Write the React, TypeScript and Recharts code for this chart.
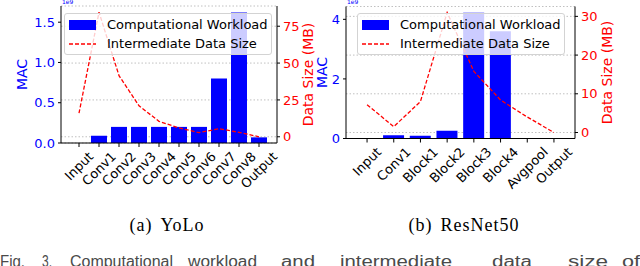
import React from "react";
import {
  ComposedChart, Bar, Line, XAxis, YAxis, CartesianGrid, Legend,
} from "recharts";

// (a) YoLo – MAC in units of 1e9, data size in MB
const yoloLayers = ["Input", "Conv1", "Conv2", "Conv3", "Conv4", "Conv5", "Conv6", "Conv7", "Conv8", "Output"];
const yoloMac = [0, 0.09, 0.2, 0.2, 0.2, 0.2, 0.2, 0.8, 1.62, 0.07];
const yoloSize = [16, 84.5, 41.5, 21, 10.5, 6, 2.8, 5.5, 3, 0];
const yoloMacTicks = [0, 0.5, 1, 1.5];
const yoloSizeTicks = [0, 25, 50, 75];

// (b) ResNet50
const resnetLayers = ["Input", "Conv1", "Block1", "Block2", "Block3", "Block4", "Avgpool", "Output"];
const resnetMac = [0, 0.11, 0.09, 0.26, 4.22, 3.6, 0, 0];
const resnetSize = [7.2, 1.5, 8, 31, 15.8, 8.4, 4, 0];
const resnetMacTicks = [0, 2, 4];
const resnetSizeTicks = [0, 10, 20, 30];

// first line of the figure caption (justified in the paper, cut by the crop)
const figWords = ["Fig.", "3.", "Computational", "workload", "and", "intermediate", "data", "size", "of"];
const figWordX = [0, 42, 70, 188, 281, 340, 492, 568, 622];
const figWordW = [25, 10, 103, 69, 34, 112, 40, 40, 18];

const FONT = "'DejaVu Sans', sans-serif";
const BLUE = "#0000ff";
const RED = "#ff0000";
const CHART_H = 210;

let measureCtx: CanvasRenderingContext2D | null = null;
function textWidth(s: string, px: number) {
  if (!measureCtx) measureCtx = document.createElement("canvas").getContext("2d");
  if (!measureCtx) return s.length * px * 0.6;
  measureCtx.font = `${px}px 'DejaVu Sans'`;
  return measureCtx.measureText(s).width;
}

// matplotlib style: label rotated 45deg, its bounding box centred under the tick
const RotatedTick = (props: any) => {
  const { x, y, payload } = props;
  const fs = 13;
  const w = textWidth(payload.value, fs);
  const cy = y + (w + fs * 0.9) / (2 * Math.SQRT2);
  return (
    <text x={x} y={cy} transform={`rotate(-45, ${x}, ${cy})`} textAnchor="middle"
      dominantBaseline="central" fontSize={fs} fontFamily={FONT} fill="#000">
      {payload.value}
    </text>
  );
};

const LegendBox = ({ payload }: any) => (
  <div style={{
    width: 208, height: 42, boxSizing: "border-box", border: "1px solid #d3d3d3", borderRadius: 3,
    background: "rgba(255,255,255,0.8)", position: "relative", fontFamily: FONT, fontSize: 13, color: "#000",
  }}>
    {(payload ?? []).map((entry: any, i: number) => (
      <div key={i} style={{ position: "absolute", left: 4, top: 3 + i * 19, height: 15, display: "flex", alignItems: "center", whiteSpace: "nowrap" }}>
        {entry.type === "rect"
          ? <div style={{ width: 27, height: 10, background: entry.color }} />
          : (
            <svg width={27} height={10}>
              <line x1={0} x2={27} y1={5} y2={5} stroke={entry.color} strokeWidth={1.3} strokeDasharray="4 2" />
            </svg>
          )}
        <span style={{ marginLeft: 11 }}>{entry.value}</span>
      </div>
    ))}
  </div>
);

// matplotlib-like 5% margin on the twin axis range
const padDomain = (vals: number[]): [number, number] => {
  const lo = Math.min(...vals), hi = Math.max(...vals);
  const m = (hi - lo) * 0.05;
  return [lo - m, hi + m];
};

type PanelProps = {
  layers: string[]; mac: number[]; size: number[];
  macTicks: number[]; sizeTicks: number[];
  macFormat: (v: number) => string;
  width: number;
  margin: { top: number; right: number; bottom: number; left: number };
  macAxisW: number; sizeAxisW: number; bandPad: number;
  macLabelDx: number; sizeLabelDx: number; legendLeft: number;
};

function Panel(p: PanelProps) {
  const data = p.layers.map((layer, i) => ({ layer, mac: p.mac[i], size: p.size[i] }));
  const axisStroke = { stroke: "#000", strokeWidth: 1 };
  return (
    <ComposedChart width={p.width} height={CHART_H} data={data} margin={p.margin} barCategoryGap="10%">
      <XAxis dataKey="layer" height={60} interval={0} tickSize={4} tickMargin={3}
        tick={(t: any) => <RotatedTick {...t} />} tickLine={axisStroke} axisLine={axisStroke}
        padding={{ left: p.bandPad, right: p.bandPad }} />
      <XAxis xAxisId="top" dataKey="layer" orientation="top" height={0} tick={false}
        tickLine={false} axisLine={axisStroke} />
      <YAxis yAxisId="mac" type="number" width={p.macAxisW} domain={[0, Math.max(...p.mac) * 1.05]}
        allowDataOverflow ticks={p.macTicks} tickFormatter={p.macFormat} tickSize={3} tickMargin={3}
        tick={{ fill: BLUE, fontSize: 13, fontFamily: FONT }} tickLine={axisStroke} axisLine={axisStroke}
        label={{ value: "MAC", angle: -90, position: "center", dx: p.macLabelDx, fill: BLUE, fontSize: 14, fontFamily: FONT }} />
      <YAxis yAxisId="size" orientation="right" type="number" width={p.sizeAxisW} domain={padDomain(p.size)}
        allowDataOverflow ticks={p.sizeTicks} tickSize={3} tickMargin={3}
        tick={{ fill: RED, fontSize: 13, fontFamily: FONT }} tickLine={axisStroke} axisLine={axisStroke}
        label={{ value: "Data Size (MB)", angle: -90, position: "center", dx: p.sizeLabelDx, fill: RED, fontSize: 14, fontFamily: FONT }} />
      <Bar yAxisId="mac" dataKey="mac" name="Computational Workload" fill={BLUE} isAnimationActive={false} />
      <CartesianGrid yAxisId="size" vertical={false} stroke="#b0b0b0" strokeWidth={0.8} strokeDasharray="1.5 2" />
      <Line yAxisId="size" dataKey="size" name="Intermediate Data Size" type="linear" stroke={RED}
        strokeWidth={1.3} strokeDasharray="4 2" dot={false} activeDot={false} isAnimationActive={false} />
      <Legend layout="vertical" align="center" verticalAlign="middle" content={<LegendBox />}
        wrapperStyle={{ left: p.legendLeft, top: 13, width: 208, height: 42 }} />
    </ComposedChart>
  );
}

const sciStyle: React.CSSProperties = {
  position: "absolute", top: -1, fontSize: 6, lineHeight: "6px", color: BLUE, fontFamily: FONT,
};
const captionStyle: React.CSSProperties = {
  position: "absolute", top: 215, width: 300, textAlign: "center", fontFamily: "'Liberation Serif', serif",
  fontSize: 18, lineHeight: "20px", letterSpacing: 1, color: "#000",
};

export default function App() {
  return (
    <div style={{ position: "fixed", left: 0, top: 0, width: 640, height: 266, background: "#fff", overflow: "hidden" }}>
      <div style={{ position: "absolute", left: 0, top: 0 }}>
        <Panel layers={yoloLayers} mac={yoloMac} size={yoloSize} macTicks={yoloMacTicks} sizeTicks={yoloSizeTicks}
          macFormat={(v) => v.toFixed(1)} width={320}
          margin={{ top: 6, right: 7, bottom: 7, left: 21 }} macAxisW={40} sizeAxisW={36} bandPad={8}
          macLabelDx={-19} sizeLabelDx={13} legendLeft={64} />
      </div>
      <div style={{ position: "absolute", left: 300, top: 0 }}>
        <Panel layers={resnetLayers} mac={resnetMac} size={resnetSize} macTicks={resnetMacTicks} sizeTicks={resnetSizeTicks}
          macFormat={(v) => String(v)} width={340}
          margin={{ top: 6.5, right: 29, bottom: 11.5, left: 6 }} macAxisW={40} sizeAxisW={36} bandPad={7.7}
          macLabelDx={-4} sizeLabelDx={14} legendLeft={57} />
      </div>
      <span style={{ ...sciStyle, left: 62 }}>1e9</span>
      <span style={{ ...sciStyle, left: 347 }}>1e9</span>
      <div style={{ ...captionStyle, left: 17 }}>(a)<span style={{ marginLeft: 8 }}>YoLo</span></div>
      <div style={{ ...captionStyle, left: 314 }}>(b)<span style={{ marginLeft: 8 }}>ResNet50</span></div>
      <svg width={640} height={20} style={{ position: "absolute", left: 0, top: 252 }}>
        {figWords.map((w, i) => (
          <text key={w} x={figWordX[i]} y={14.5} textLength={figWordW[i]} lengthAdjust="spacingAndGlyphs"
            fontFamily="'Liberation Sans', Arial, sans-serif" fontSize={16} fill="#4a4a4a">{w}</text>
        ))}
      </svg>
    </div>
  );
}
